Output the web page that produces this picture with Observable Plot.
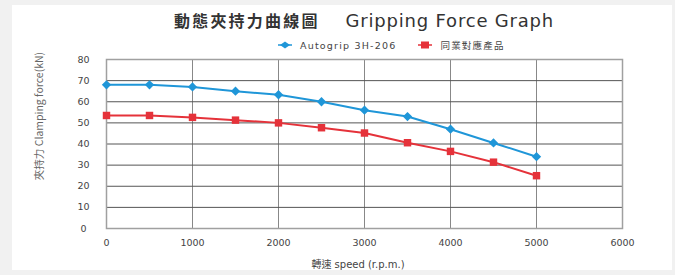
<!DOCTYPE html>
<html>
<head>
<meta charset="utf-8">
<script src="https://cdn.jsdelivr.net/npm/d3@7"></script>
<script src="https://cdn.jsdelivr.net/npm/@observablehq/plot@0.6"></script>
<style>
  html, body { margin: 0; padding: 0; background: #f1f1f1; }
  #wrap { position: relative; width: 675px; height: 275px; background: #f1f1f1; overflow: hidden; font-family: "DejaVu Sans", sans-serif; }
  #panel { position: absolute; left: 12px; top: 5px; width: 660px; height: 265px; background: #fff; }
  #title { position: absolute; top: 8px; left: 0; width: 728px; text-align: center; color: #333; white-space: nowrap; }
  #title .cn { font-family: "Noto Sans CJK TC", sans-serif; font-weight: 700; font-size: 16px; letter-spacing: 2.2px; }
  #title .en { font-family: "DejaVu Sans", sans-serif; margin-left: 26px; font-size: 18px; letter-spacing: 0.8px; }
  #legend { position: absolute; top: 38px; left: 278px; font-size: 9.5px; color: #444; white-space: nowrap; display: flex; align-items: center; }
  #legend .it { display: flex; align-items: center; margin-right: 22px; }
  #legend .en { letter-spacing: 1.2px; }
  #legend svg { margin-right: 8px; }
  #legend .cnl { font-family: "Noto Sans CJK TC", sans-serif; letter-spacing: 1.2px; font-size: 9.5px; }
  #plot { position: absolute; left: 0; top: 0; }
  #ylab { position: absolute; left: 38px; top: 116px; transform: translate(-50%, -50%) rotate(-90deg); font-size: 10.5px; color: #666; white-space: nowrap; font-family: "Liberation Sans Narrow", "Noto Sans CJK TC", sans-serif; }
  #xlab { position: absolute; top: 256px; left: 0; width: 716px; text-align: center; font-size: 10px; color: #444; white-space: nowrap; }
  #xlab .cn { font-family: "Noto Sans CJK TC", sans-serif; }
</style>
</head>
<body>
<div id="wrap">
  <div id="panel"></div>
  <div id="plot"></div>
  <div id="title"><span class="cn">動態夾持力曲線圖</span><span class="en">Gripping Force Graph</span></div>
  <div id="legend"></div>
  <div id="ylab">夾持力 Clamping force(kN)</div>
  <div id="xlab"><span class="cn">轉速</span> speed (r.p.m.)</div>
</div>
<script>
const speeds = [0, 500, 1000, 1500, 2000, 2500, 3000, 3500, 4000, 4500, 5000];
const autogrip = [68, 68, 67, 65, 63.3, 60, 56, 53, 47, 40.5, 34];
const competitor = [53.5, 53.5, 52.6, 51.3, 50, 47.7, 45.2, 40.6, 36.5, 31.4, 25];
const seriesNames = ["Autogrip 3H-206", "同業對應產品"];
const seriesColors = ["#1f96d8", "#e5323a"];
const xTicks = [0, 1000, 2000, 3000, 4000, 5000, 6000];
const yTicks = [0, 10, 20, 30, 40, 50, 60, 70, 80];

const rows = [];
speeds.forEach((s, i) => {
  rows.push({speed: s, force: autogrip[i], series: seriesNames[0]});
  rows.push({speed: s, force: competitor[i], series: seriesNames[1]});
});
const colorScale = {domain: seriesNames, range: seriesColors};

const chart = Plot.plot({
  width: 675,
  height: 275,
  marginLeft: 106,
  marginRight: 53,
  marginTop: 59,
  marginBottom: 47,
  style: {background: "transparent", fontFamily: "DejaVu Sans, sans-serif", fontSize: "9.5px", color: "#333"},
  x: {domain: [0, 6000], ticks: xTicks, label: null},
  y: {domain: [0, 80], ticks: yTicks, label: null},
  color: colorScale,
  marks: [
    Plot.gridX(xTicks, {stroke: "#888", strokeOpacity: 1, strokeWidth: 1}),
    Plot.gridY(yTicks, {stroke: "#555", strokeOpacity: 1, strokeWidth: 1}),
    Plot.frame({stroke: "#a0a0a0", strokeWidth: 1.5}),
    Plot.axisX(xTicks, {tickSize: 0, tickPadding: 11, fill: "#444", tickFormat: d => String(d)}),
    Plot.axisY(yTicks, {tickSize: 0, tickPadding: 23, textAnchor: "middle", fill: "#444", tickFormat: d => String(d)}),
    Plot.line(rows, {x: "speed", y: "force", stroke: "series", strokeWidth: 2}),
    Plot.dot(rows.filter(d => d.series === seriesNames[0]), {x: "speed", y: "force", fill: "series", symbol: "diamond2", r: 4.2}),
    Plot.dot(rows.filter(d => d.series === seriesNames[1]), {x: "speed", y: "force", fill: "series", symbol: "square", r: 4.2})
  ]
});
document.getElementById("plot").appendChild(chart);

// legend
const leg = document.getElementById("legend");
seriesNames.forEach((name, i) => {
  const it = document.createElement("div");
  it.className = "it";
  const shape = i === 0
    ? `<svg width="14" height="10"><path d="M2,5 L7,1.5 L12,5 L7,8.5 Z" fill="${seriesColors[i]}"/><line x1="0" y1="5" x2="14" y2="5" stroke="${seriesColors[i]}" stroke-width="1.5"/></svg>`
    : `<svg width="14" height="10"><rect x="3" y="1.5" width="8" height="7" fill="${seriesColors[i]}"/><line x1="0" y1="5" x2="14" y2="5" stroke="${seriesColors[i]}" stroke-width="1.5"/></svg>`;
  it.innerHTML = shape + `<span class="${i === 1 ? "cnl" : "en"}">${name}</span>`;
  leg.appendChild(it);
});
</script>
</body>
</html>
